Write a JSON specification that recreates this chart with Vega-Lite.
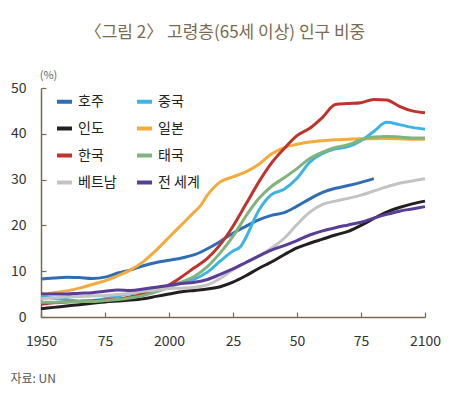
{
"$schema": "https://vega.github.io/schema/vega-lite/v6.json",
"width": 384, "height": 229,
"autosize": {"type": "none"},
"padding": {"left": 41, "top": 88, "right": 29, "bottom": 77},
"background": "white",
"config": {"view": {"stroke": null}, "font": "Noto Sans CJK KR"},
"title": {"text": "〈그림 2〉 고령층(65세 이상) 인구 비중", "fontSize": 17, "fontWeight": "normal", "color": "#7a6a50", "anchor": "middle", "dx": -8, "offset": 27},
"data": {"values": [
{"c":"호주","year":1950,"v":8.3},{"c":"호주","year":1955,"v":8.5},{"c":"호주","year":1960,"v":8.7},{"c":"호주","year":1965,"v":8.6},{"c":"호주","year":1970,"v":8.4},{"c":"호주","year":1975,"v":8.7},{"c":"호주","year":1980,"v":9.6},{"c":"호주","year":1985,"v":10.3},{"c":"호주","year":1990,"v":11.2},{"c":"호주","year":1995,"v":11.9},{"c":"호주","year":2000,"v":12.4},{"c":"호주","year":2005,"v":12.9},{"c":"호주","year":2010,"v":13.6},{"c":"호주","year":2015,"v":14.9},{"c":"호주","year":2020,"v":16.5},{"c":"호주","year":2025,"v":18.3},{"c":"호주","year":2030,"v":19.8},{"c":"호주","year":2035,"v":21.2},{"c":"호주","year":2040,"v":22.2},{"c":"호주","year":2045,"v":22.8},{"c":"호주","year":2050,"v":24.2},{"c":"호주","year":2055,"v":25.8},{"c":"호주","year":2060,"v":27.2},{"c":"호주","year":2065,"v":28.1},{"c":"호주","year":2070,"v":28.7},{"c":"호주","year":2075,"v":29.4},{"c":"호주","year":2080,"v":30.2},
{"c":"중국","year":1950,"v":4.5},{"c":"중국","year":1955,"v":4.1},{"c":"중국","year":1960,"v":3.8},{"c":"중국","year":1965,"v":3.5},{"c":"중국","year":1970,"v":3.6},{"c":"중국","year":1975,"v":4.0},{"c":"중국","year":1980,"v":4.6},{"c":"중국","year":1985,"v":5.1},{"c":"중국","year":1990,"v":5.5},{"c":"중국","year":1995,"v":6.0},{"c":"중국","year":2000,"v":6.8},{"c":"중국","year":2005,"v":7.6},{"c":"중국","year":2010,"v":8.3},{"c":"중국","year":2015,"v":9.8},{"c":"중국","year":2020,"v":12.2},{"c":"중국","year":2025,"v":14.4},{"c":"중국","year":2028,"v":15.4},{"c":"중국","year":2030,"v":17.3},{"c":"중국","year":2035,"v":23.2},{"c":"중국","year":2040,"v":26.7},{"c":"중국","year":2045,"v":27.9},{"c":"중국","year":2050,"v":30.3},{"c":"중국","year":2055,"v":33.8},{"c":"중국","year":2060,"v":35.7},{"c":"중국","year":2065,"v":36.7},{"c":"중국","year":2070,"v":37.2},{"c":"중국","year":2075,"v":38.5},{"c":"중국","year":2080,"v":40.5},{"c":"중국","year":2085,"v":42.5},{"c":"중국","year":2090,"v":42.0},{"c":"중국","year":2095,"v":41.4},{"c":"중국","year":2100,"v":41.0},
{"c":"인도","year":1950,"v":1.8},{"c":"인도","year":1955,"v":2.1},{"c":"인도","year":1960,"v":2.4},{"c":"인도","year":1965,"v":2.7},{"c":"인도","year":1970,"v":3.0},{"c":"인도","year":1975,"v":3.3},{"c":"인도","year":1980,"v":3.5},{"c":"인도","year":1985,"v":3.7},{"c":"인도","year":1990,"v":4.0},{"c":"인도","year":1995,"v":4.5},{"c":"인도","year":2000,"v":5.0},{"c":"인도","year":2005,"v":5.5},{"c":"인도","year":2010,"v":5.8},{"c":"인도","year":2015,"v":6.1},{"c":"인도","year":2020,"v":6.6},{"c":"인도","year":2025,"v":7.6},{"c":"인도","year":2030,"v":9.0},{"c":"인도","year":2035,"v":10.6},{"c":"인도","year":2040,"v":12.0},{"c":"인도","year":2045,"v":13.6},{"c":"인도","year":2050,"v":15.1},{"c":"인도","year":2055,"v":16.1},{"c":"인도","year":2060,"v":17.0},{"c":"인도","year":2065,"v":17.9},{"c":"인도","year":2070,"v":18.7},{"c":"인도","year":2075,"v":20.0},{"c":"인도","year":2080,"v":21.5},{"c":"인도","year":2085,"v":22.9},{"c":"인도","year":2090,"v":23.9},{"c":"인도","year":2095,"v":24.7},{"c":"인도","year":2100,"v":25.3},
{"c":"일본","year":1950,"v":4.9},{"c":"일본","year":1955,"v":5.3},{"c":"일본","year":1960,"v":5.7},{"c":"일본","year":1965,"v":6.3},{"c":"일본","year":1970,"v":7.1},{"c":"일본","year":1975,"v":7.9},{"c":"일본","year":1980,"v":9.0},{"c":"일본","year":1985,"v":10.3},{"c":"일본","year":1990,"v":12.1},{"c":"일본","year":1995,"v":14.6},{"c":"일본","year":2000,"v":17.4},{"c":"일본","year":2005,"v":20.2},{"c":"일본","year":2010,"v":23.0},{"c":"일본","year":2012,"v":24.1},{"c":"일본","year":2015,"v":26.6},{"c":"일본","year":2020,"v":29.5},{"c":"일본","year":2025,"v":30.6},{"c":"일본","year":2030,"v":31.7},{"c":"일본","year":2035,"v":33.3},{"c":"일본","year":2040,"v":35.6},{"c":"일본","year":2045,"v":37.0},{"c":"일본","year":2050,"v":37.7},{"c":"일본","year":2055,"v":38.2},{"c":"일본","year":2060,"v":38.5},{"c":"일본","year":2065,"v":38.7},{"c":"일본","year":2070,"v":38.8},{"c":"일본","year":2075,"v":38.9},{"c":"일본","year":2080,"v":38.9},{"c":"일본","year":2085,"v":39.0},{"c":"일본","year":2090,"v":38.9},{"c":"일본","year":2095,"v":38.8},{"c":"일본","year":2100,"v":38.8},
{"c":"한국","year":1950,"v":2.8},{"c":"한국","year":1955,"v":3.1},{"c":"한국","year":1960,"v":3.3},{"c":"한국","year":1965,"v":3.4},{"c":"한국","year":1970,"v":3.5},{"c":"한국","year":1975,"v":3.7},{"c":"한국","year":1980,"v":3.9},{"c":"한국","year":1985,"v":4.4},{"c":"한국","year":1990,"v":5.0},{"c":"한국","year":1995,"v":5.8},{"c":"한국","year":2000,"v":7.0},{"c":"한국","year":2005,"v":8.8},{"c":"한국","year":2010,"v":10.8},{"c":"한국","year":2015,"v":12.8},{"c":"한국","year":2020,"v":15.8},{"c":"한국","year":2025,"v":19.8},{"c":"한국","year":2030,"v":24.6},{"c":"한국","year":2035,"v":29.4},{"c":"한국","year":2040,"v":33.6},{"c":"한국","year":2045,"v":36.8},{"c":"한국","year":2050,"v":39.6},{"c":"한국","year":2055,"v":41.2},{"c":"한국","year":2060,"v":43.6},{"c":"한국","year":2065,"v":46.4},{"c":"한국","year":2070,"v":46.6},{"c":"한국","year":2075,"v":46.8},{"c":"한국","year":2080,"v":47.5},{"c":"한국","year":2085,"v":47.4},{"c":"한국","year":2090,"v":46.0},{"c":"한국","year":2095,"v":45.0},{"c":"한국","year":2100,"v":44.6},
{"c":"태국","year":1950,"v":3.2},{"c":"태국","year":1955,"v":3.2},{"c":"태국","year":1960,"v":3.3},{"c":"태국","year":1965,"v":3.4},{"c":"태국","year":1970,"v":3.4},{"c":"태국","year":1975,"v":3.6},{"c":"태국","year":1980,"v":3.8},{"c":"태국","year":1985,"v":4.2},{"c":"태국","year":1990,"v":4.7},{"c":"태국","year":1995,"v":5.5},{"c":"태국","year":2000,"v":6.5},{"c":"태국","year":2005,"v":7.6},{"c":"태국","year":2010,"v":8.9},{"c":"태국","year":2015,"v":11.0},{"c":"태국","year":2020,"v":14.0},{"c":"태국","year":2025,"v":17.6},{"c":"태국","year":2030,"v":22.0},{"c":"태국","year":2035,"v":25.8},{"c":"태국","year":2040,"v":28.5},{"c":"태국","year":2045,"v":30.4},{"c":"태국","year":2050,"v":32.4},{"c":"태국","year":2055,"v":34.6},{"c":"태국","year":2060,"v":36.0},{"c":"태국","year":2065,"v":37.0},{"c":"태국","year":2070,"v":37.6},{"c":"태국","year":2075,"v":38.7},{"c":"태국","year":2080,"v":39.3},{"c":"태국","year":2085,"v":39.4},{"c":"태국","year":2090,"v":39.3},{"c":"태국","year":2095,"v":39.1},{"c":"태국","year":2100,"v":39.1},
{"c":"베트남","year":1950,"v":4.0},{"c":"베트남","year":1955,"v":4.2},{"c":"베트남","year":1960,"v":4.4},{"c":"베트남","year":1965,"v":4.5},{"c":"베트남","year":1970,"v":4.6},{"c":"베트남","year":1975,"v":4.7},{"c":"베트남","year":1980,"v":4.9},{"c":"베트남","year":1985,"v":5.2},{"c":"베트남","year":1990,"v":5.6},{"c":"베트남","year":1995,"v":5.9},{"c":"베트남","year":2000,"v":6.2},{"c":"베트남","year":2005,"v":6.3},{"c":"베트남","year":2010,"v":6.5},{"c":"베트남","year":2015,"v":7.0},{"c":"베트남","year":2020,"v":8.4},{"c":"베트남","year":2025,"v":10.3},{"c":"베트남","year":2030,"v":11.9},{"c":"베트남","year":2035,"v":13.3},{"c":"베트남","year":2040,"v":15.0},{"c":"베트남","year":2045,"v":17.2},{"c":"베트남","year":2050,"v":20.2},{"c":"베트남","year":2055,"v":22.9},{"c":"베트남","year":2060,"v":24.6},{"c":"베트남","year":2065,"v":25.3},{"c":"베트남","year":2070,"v":25.9},{"c":"베트남","year":2075,"v":26.6},{"c":"베트남","year":2080,"v":27.5},{"c":"베트남","year":2085,"v":28.4},{"c":"베트남","year":2090,"v":29.2},{"c":"베트남","year":2095,"v":29.7},{"c":"베트남","year":2100,"v":30.2},
{"c":"전 세계","year":1950,"v":5.1},{"c":"전 세계","year":1955,"v":5.0},{"c":"전 세계","year":1960,"v":5.0},{"c":"전 세계","year":1965,"v":5.2},{"c":"전 세계","year":1970,"v":5.3},{"c":"전 세계","year":1975,"v":5.6},{"c":"전 세계","year":1980,"v":5.9},{"c":"전 세계","year":1985,"v":5.8},{"c":"전 세계","year":1990,"v":6.1},{"c":"전 세계","year":1995,"v":6.5},{"c":"전 세계","year":2000,"v":6.9},{"c":"전 세계","year":2005,"v":7.3},{"c":"전 세계","year":2010,"v":7.6},{"c":"전 세계","year":2015,"v":8.2},{"c":"전 세계","year":2020,"v":9.3},{"c":"전 세계","year":2025,"v":10.5},{"c":"전 세계","year":2030,"v":11.9},{"c":"전 세계","year":2035,"v":13.3},{"c":"전 세계","year":2040,"v":14.6},{"c":"전 세계","year":2045,"v":15.6},{"c":"전 세계","year":2050,"v":16.7},{"c":"전 세계","year":2055,"v":17.9},{"c":"전 세계","year":2060,"v":18.8},{"c":"전 세계","year":2065,"v":19.5},{"c":"전 세계","year":2070,"v":20.1},{"c":"전 세계","year":2075,"v":20.7},{"c":"전 세계","year":2080,"v":21.6},{"c":"전 세계","year":2085,"v":22.4},{"c":"전 세계","year":2090,"v":23.1},{"c":"전 세계","year":2095,"v":23.6},{"c":"전 세계","year":2100,"v":24.1}
]},
"mark": {"type": "line", "interpolate": "monotone", "strokeWidth": 3},
"encoding": {
  "x": {"field": "year", "type": "quantitative", "scale": {"domain": [1950, 2100], "nice": false, "zero": false},
    "axis": {"values": [1950, 1975, 2000, 2025, 2050, 2075, 2100], "labelExpr": "datum.value == 1950 || datum.value % 100 == 0 ? '' + datum.value : '' + (datum.value % 100)", "grid": false, "domainColor": "#7b6a4f", "domainWidth": 1.5, "tickColor": "#7b6a4f", "tickSize": -5, "tickWidth": 1.2, "labelPadding": 22, "labelFontSize": 14, "labelColor": "#333333", "labelFlush": false,
      "title": "자료: UN", "titleX": -31, "titleY": 61, "titleAlign": "left", "titleBaseline": "middle", "titleFontSize": 12, "titleFontWeight": "normal", "titleColor": "#555555"}},
  "y": {"field": "v", "type": "quantitative", "scale": {"domain": [0, 50], "nice": false},
    "axis": {"values": [0, 10, 20, 30, 40, 50], "grid": false, "domainColor": "#7b6a4f", "domainWidth": 1.5, "tickColor": "#7b6a4f", "tickSize": -5, "tickWidth": 1.2, "labelPadding": 20, "labelFontSize": 14, "labelColor": "#333333",
      "title": "(%)", "titleAngle": 0, "titleX": 7, "titleY": -13, "titleAlign": "center", "titleBaseline": "middle", "titleFontSize": 11, "titleFontWeight": "normal", "titleColor": "#666666"}},
  "color": {"field": "c", "type": "nominal",
    "scale": {"domain": ["호주", "인도", "한국", "베트남", "중국", "일본", "태국", "전 세계"], "range": ["#2f6db5", "#231f20", "#c0322b", "#c3c3c3", "#3cb4e6", "#f5ab3c", "#80b47c", "#5a3d99"]},
    "legend": {"orient": "none", "legendX": 14, "legendY": 4, "columns": 2, "title": null, "symbolType": "stroke", "symbolSize": 225, "symbolStrokeWidth": 4, "labelFontSize": 14, "labelColor": "#222222", "labelOffset": 4, "rowPadding": 9, "columnPadding": 12, "labelFont": "Noto Sans CJK KR"}}
}
}
